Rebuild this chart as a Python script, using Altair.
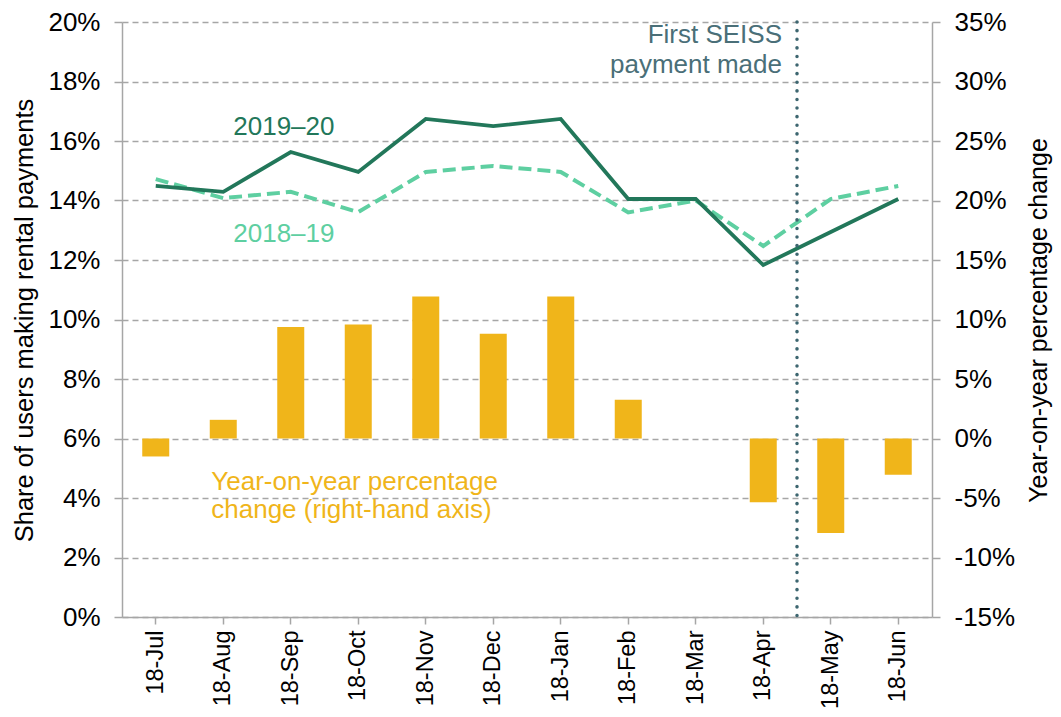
import altair as alt
import pandas as pd

months = ["18-Jul", "18-Aug", "18-Sep", "18-Oct", "18-Nov", "18-Dec",
          "18-Jan", "18-Feb", "18-Mar", "18-Apr", "18-May", "18-Jun"]
share_2019_20 = [14.49, 14.29, 15.63, 14.96, 16.74, 16.50, 16.74, 14.05, 14.05, 11.83, 12.94, 14.05]
share_2018_19 = [14.72, 14.08, 14.29, 13.61, 14.96, 15.16, 14.96, 13.60, 14.00, 12.47, 14.05, 14.49]
yoy_change = [-1.51, 1.57, 9.36, 9.58, 11.93, 8.80, 11.93, 3.25, 0.0, -5.35, -7.95, -3.05]
left_ticks = [0, 2, 4, 6, 8, 10, 12, 14, 16, 18, 20]
right_ticks = [-15, -10, -5, 0, 5, 10, 15, 20, 25, 30, 35]

DARK = "#22775a"
LIGHT = "#5ecfa1"
GOLD = "#f0b51a"
SLATE = "#4a6f78"
GRID = "#a6a6a6"
FONT = "Liberation Sans"

df = pd.DataFrame({
    "month": months,
    "s1920": [v / 100 for v in share_2019_20],
    "s1819": [v / 100 for v in share_2018_19],
    "yoy": [v / 100 for v in yoy_change],
})

xscale = alt.Scale(paddingInner=0, paddingOuter=0)
X = alt.X("month:N", sort=months, scale=xscale,
          axis=alt.Axis(title=None, labelAngle=270, labelAlign="right",
                        labelBaseline="middle", labelFontSize=23.5,
                        labelPadding=6, tickSize=7, labelColor="black",
                        domainColor=GRID, tickColor=GRID, domainWidth=1.5,
                        tickWidth=1.5, labelFont=FONT))

lscale = alt.Scale(domain=[0, 0.2], nice=False, zero=False)
rscale = alt.Scale(domain=[-0.15, 0.35], nice=False, zero=False)

left_axis = alt.Axis(
    title="Share of users making rental payments", orient="left",
    values=[v / 100 for v in left_ticks],
    labelExpr="round(datum.value*100) + '%'",
    labelFontSize=26, labelFont=FONT, labelColor="black", labelPadding=14,
    tickSize=8, tickColor=GRID, tickWidth=1.5, domainColor=GRID, domainWidth=1.5,
    grid=True, gridColor=GRID, gridDash=[6, 4], gridWidth=1.5,
    titleFontSize=25.5, titleFont=FONT, titleFontWeight="normal", titleColor="black",
    titleAngle=270, titleX=-98, titleY=298, titleAlign="center", titleBaseline="middle",
)
right_axis = alt.Axis(
    title="Year-on-year percentage change", orient="right",
    values=[v / 100 for v in right_ticks],
    labelExpr="round(datum.value*100) + '%'",
    labelFontSize=26, labelFont=FONT, labelColor="black", labelPadding=14,
    tickSize=8, tickColor=GRID, tickWidth=1.5, domainColor=GRID, domainWidth=1.5,
    grid=False,
    titleFontSize=25, titleFont=FONT, titleFontWeight="normal", titleColor="black",
    titleAngle=270, titleX=106, titleY=298, titleAlign="center", titleBaseline="middle",
)

base = alt.Chart(df)

bars = base.mark_bar(color=GOLD, size=27).encode(
    x=X,
    y=alt.Y("yoy:Q", scale=rscale, axis=right_axis),
)

line_1819 = base.mark_line(color=LIGHT, strokeWidth=4, strokeDash=[13, 6]).encode(
    x=X, y=alt.Y("s1819:Q", scale=lscale, axis=left_axis))
line_1920 = base.mark_line(color=DARK, strokeWidth=3.8).encode(
    x=X, y=alt.Y("s1920:Q", scale=lscale))

rule = alt.Chart(pd.DataFrame({"month": ["18-Apr"]})).mark_rule(
    color="#3d6670", strokeWidth=3.5, strokeDash=[0.1, 8.5], strokeCap="round"
).encode(x=alt.X("month:N", sort=months, scale=xscale, bandPosition=1))


def label(month, yval, text, color, align, dx, band=0.5):
    d = pd.DataFrame({"month": [month], "y": [yval], "t": [text]})
    return alt.Chart(d).mark_text(
        align=align, baseline="alphabetic", dx=dx, fontSize=26, font=FONT, color=color
    ).encode(
        x=alt.X("month:N", sort=months, scale=xscale, bandPosition=band),
        y=alt.Y("y:Q", scale=lscale),
        text="t:N",
    )


texts = [
    label("18-Aug", 0.162, "2019–20", DARK, "left", 10),
    label("18-Aug", 0.126, "2018–19", LIGHT, "left", 10),
    label("18-Aug", 0.0427, "Year-on-year percentage", GOLD, "left", -12),
    label("18-Aug", 0.0333, "change (right-hand axis)", GOLD, "left", -12),
    label("18-Apr", 0.193, "First SEISS", SLATE, "right", -15, band=1),
    label("18-Apr", 0.1829, "payment made", SLATE, "right", -15, band=1),
]

left_group = alt.layer(line_1819, line_1920, rule, *texts)

chart = alt.layer(bars, left_group).resolve_scale(y="independent").properties(
    width=810, height=595,
    padding={"left": 114, "top": 14, "right": 121, "bottom": 92},
    autosize=alt.AutoSizeParams(type="none"),
).configure_view(stroke=None)

chart.save("out.html", embed_options={"renderer": "svg", "actions": False})
